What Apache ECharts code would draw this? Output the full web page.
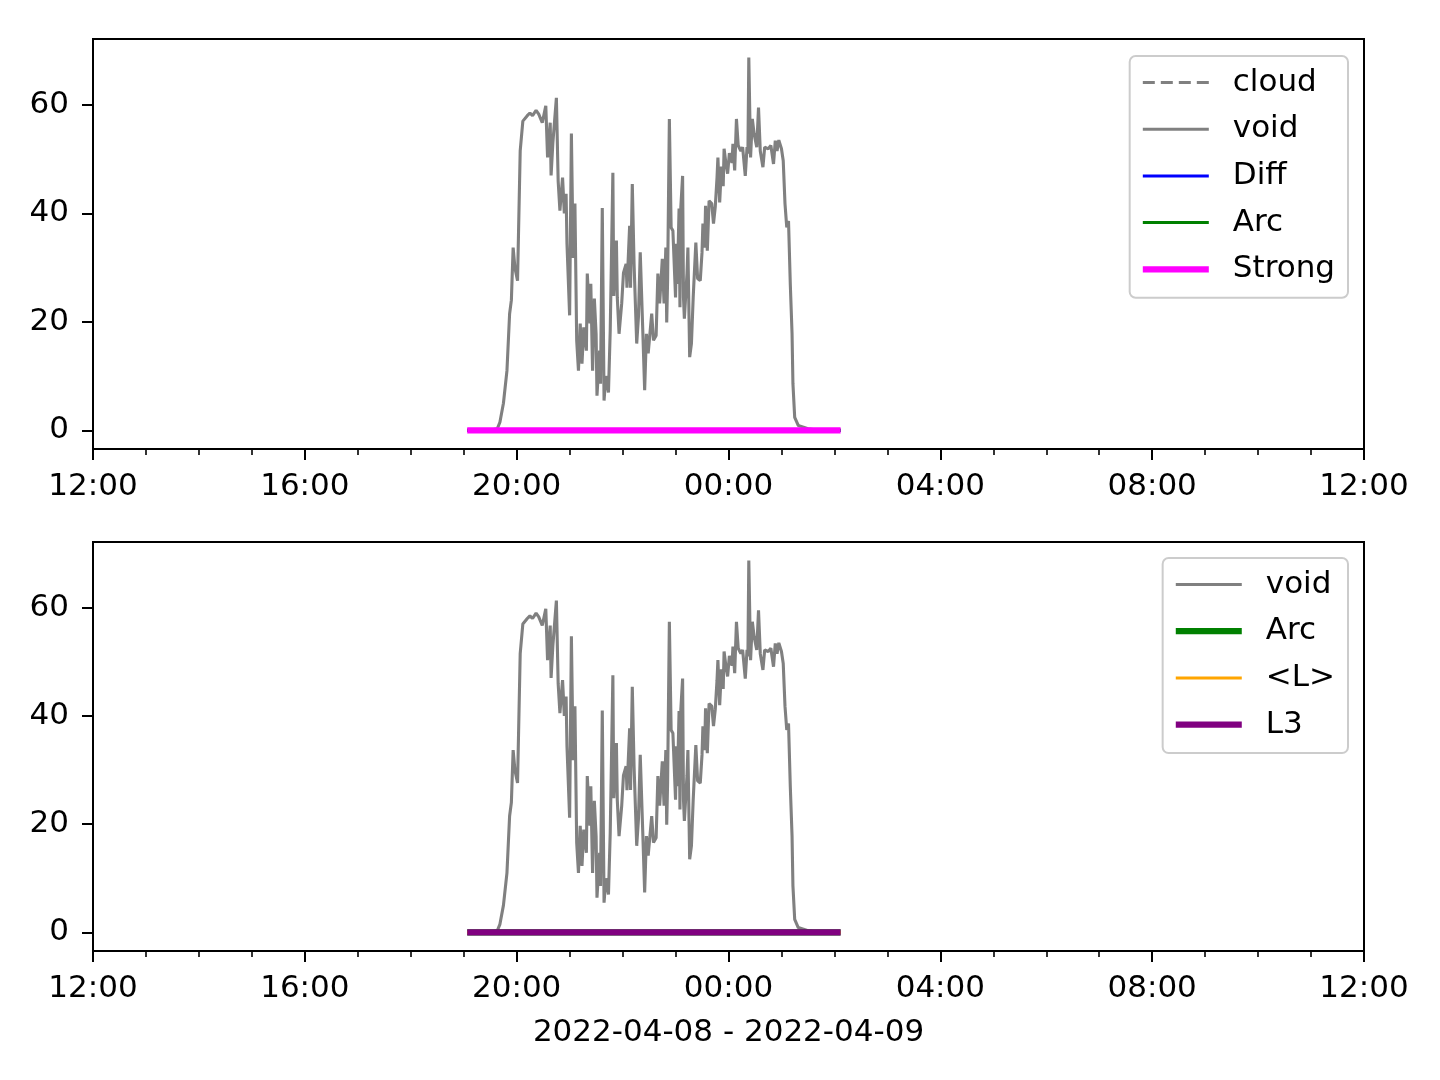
<!DOCTYPE html>
<html><head><meta charset="utf-8">
<script src="https://cdn.jsdelivr.net/npm/echarts@6/dist/echarts.min.js"></script>
<style>html,body{margin:0;padding:0;background:#fff}#c{width:1440px;height:1080px}</style>
</head><body><div id="c"></div>
<script>
// Time of day (axis starts 2022-04-08 12:00, ends 2022-04-09 12:00)
const voidTimes = [
 "19:04","19:30","19:38","19:41","19:45","19:49","19:52","19:54","19:56","19:58",
 "20:01","20:04","20:07","20:12","20:15","20:18","20:22","20:25","20:29","20:33",
 "20:35","20:38","20:39","20:41","20:45","20:47","20:49","20:52","20:54","20:56",
 "20:57","21:00","21:02","21:04","21:06","21:08","21:10","21:12","21:14","21:16",
 "21:19","21:20","21:23","21:24","21:26","21:28","21:30","21:31","21:34","21:35",
 "21:37","21:39","21:41","21:44","21:46","21:49","21:50","21:53","21:54","21:56",
 "21:59","22:01","22:04","22:05","22:08","22:09","22:11","22:13","22:16","22:18",
 "22:20","22:23","22:25","22:27","22:29","22:33","22:35","22:38","22:40","22:42",
 "22:45","22:47","22:49","22:50","22:51","22:53","22:55","22:57","23:00","23:01",
 "23:02","23:04","23:05","23:06","23:08","23:09","23:10","23:13","23:14","23:16",
 "23:18","23:20","23:23","23:25","23:28","23:30","23:31","23:33","23:34","23:36",
 "23:38","23:41","23:43","23:45","23:47","23:48","23:50","23:52","23:54","23:55",
 "23:57","23:59","00:01","00:04","00:05","00:07","00:09","00:11","00:14","00:16",
 "00:19","00:21","00:22","00:23","00:25","00:27","00:29","00:32","00:34","00:36",
 "00:39","00:41","00:45","00:48","00:51","00:53","00:55","00:57","01:00","01:02",
 "01:04","01:06","01:08","01:10","01:12","01:13","01:15","01:19","01:25","01:30",
 "01:38","02:07"
];
const voidValues = [
 0,0,0.3,1.5,5,11,21.5,24,33.7,30,
 27.6,51.5,57,58,58.5,58,59,58.3,56.7,59.8,
 50.3,56.7,47,53,61.3,46,40.5,46.6,40,43.6,
 34.4,21.2,54.7,31.8,41.8,16.6,11,19.7,12.3,19,
 14.7,28.9,19.7,27,11,24.3,17.8,6.4,14.7,8.6,
 41,5.5,10,7,18.4,47.5,24.8,35,24.5,17.8,
 23.4,29,30.7,26.3,37.7,26.3,45.4,30.7,16,21,
 32.8,17.8,7.4,17.8,14.2,21.5,16.6,17.5,28.9,23.4,
 31.6,23.4,33.7,19.9,27.6,57.4,37.4,36.8,24.5,34.4,
 27,40.9,22.7,41.2,46.9,24.5,20.6,29,33.7,13.5,
 16,24.5,34.6,28,27.6,32.8,38.1,33.7,41.4,33.1,
 42.3,41.8,38.1,41.2,46.6,50.3,42,48.6,45,51.9,
 49.3,47.3,51.1,49.3,52.8,47.9,57.4,52.5,51.5,52.2,
 46.9,52.2,51,68.7,50.3,57.4,54.7,52.2,59.5,51.5,
 48.5,52.2,51.9,52.5,49.1,53.4,51.5,53.5,51.9,49.7,
 41.8,37.4,38.6,27,17.8,8.6,2.4,0.9,0.6,0.3,
 0.1,0
];
// Flat series (all zero over the measurement window)
const flatTimes = ["19:04","02:07"];
const flatValues = [0,0];
const yTicks = [0,20,40,60];
const xAxisTitle = "2022-04-08 - 2022-04-09";

// hours since 12:00 on the first day
function hrs(t){const [h,m]=t.split(':').map(Number);let v=h+m/60-12;if(v<0)v+=24;return v;}
function pts(ts,vs){return ts.map((t,i)=>[hrs(t),vs[i]]);}

const dmax = Math.max(...voidValues), dmin = 0, pad = (dmax-dmin)*0.05;
const FONT = 'DejaVu Sans';
const FS = 31;

function xAx(gi, withName){
  return {type:'value',gridIndex:gi,min:0,max:24,interval:4,
    axisLine:{show:true,onZero:false,lineStyle:{color:'#000',width:2}},
    axisTick:{show:true,length:11,lineStyle:{color:'#000',width:2}},
    minorTick:{show:true,splitNumber:4,length:6,lineStyle:{color:'#000',width:1.6}},
    splitLine:{show:false},minorSplitLine:{show:false},
    axisLabel:{margin:22,fontFamily:FONT,fontSize:FS,color:'#000',
      formatter:v=>String((12+v)%24).padStart(2,'0')+':00'},
    name: withName?xAxisTitle:'', nameLocation:'middle', nameGap:66,
    nameTextStyle:{fontFamily:FONT,fontSize:FS,color:'#000'}
  };
}
function yAx(gi){
  return {type:'value',gridIndex:gi,min:dmin-pad,max:dmax+pad,
    axisLine:{show:true,onZero:false,lineStyle:{color:'#000',width:2}},
    axisTick:{show:true,length:11,lineStyle:{color:'#000',width:2},customValues:yTicks},
    splitLine:{show:false},
    axisLabel:{margin:24,fontFamily:FONT,fontSize:FS,color:'#000',customValues:yTicks,
      formatter:v=>String(v)}
  };
}
function ln(name,gi,data,color,width,type,z){
  return {name,type:'line',xAxisIndex:gi,yAxisIndex:gi,data,symbol:'none',
    showSymbol:false,animation:false,z:z||2,
    lineStyle:{color,width,type:type||'solid'},itemStyle:{color}};
}
function li(name,width){return {name,itemStyle:{opacity:0},lineStyle:{width}};}
const legendCommon = {orient:'vertical',backgroundColor:'rgba(255,255,255,0.8)',
  borderColor:'#cccccc',borderWidth:2,borderRadius:6,itemWidth:66,itemHeight:14,itemGap:15.7,
  itemStyle:{opacity:0},
  textStyle:{fontFamily:FONT,fontSize:FS,color:'#000',lineHeight:30,padding:[0,0,0,19]},
  selectedMode:false};

const flat = pts(flatTimes,flatValues);
const vd = pts(voidTimes,voidValues);
const option = {
  animation:false,
  grid:[
    {left:93,right:76,top:39,height:410,show:true,borderColor:'#000',borderWidth:2,backgroundColor:'transparent'},
    {left:93,right:76,top:542,height:409,show:true,borderColor:'#000',borderWidth:2,backgroundColor:'transparent'}
  ],
  xAxis:[xAx(0,false),xAx(1,true)],
  yAxis:[yAx(0),yAx(1)],
  legend:[
    Object.assign({},legendCommon,{right:92,top:56,padding:[11,13,13,10],
      data:[li('cloud',3),li('void',3),li('Diff',3),li('Arc',3),li('Strong',6.25)]}),
    Object.assign({},legendCommon,{right:92,top:558,padding:[11,13,13,10],
      data:[li('void',3),li('Arc',6.25),li('<L>',3),li('L3',6.25)]})
  ],
  series:[
    ln('cloud',0,flat,'#808080',3.1,'dashed',2),
    ln('void',0,vd,'#808080',3.1,'solid',3),
    ln('Diff',0,flat,'#0000ff',3.1,'solid',4),
    ln('Arc',0,flat,'#008000',3.1,'solid',5),
    ln('Strong',0,flat,'#ff00ff',6.25,'solid',6),
    ln('void',1,vd,'#808080',3.1,'solid',3),
    ln('Arc',1,flat,'#008000',6.25,'solid',4),
    ln('<L>',1,flat,'#ffa500',3.1,'solid',5),
    ln('L3',1,flat,'#800080',6.25,'solid',6)
  ]
};
const chart = echarts.init(document.getElementById('c'),null,{renderer:'canvas'});
chart.setOption(option);
</script></body></html>
